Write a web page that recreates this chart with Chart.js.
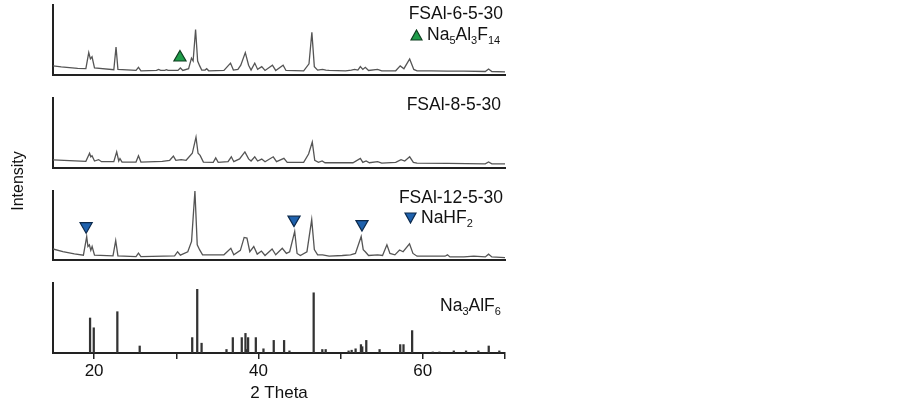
<!DOCTYPE html>
<html>
<head>
<meta charset="utf-8">
<script src="https://cdn.jsdelivr.net/npm/chart.js@4"></script>
<style>
  body { margin: 0; background: #fff; }
  #wrap { position: relative; width: 903px; height: 404px; font-family: "Liberation Sans", Arial, sans-serif; color: #111; }
  #wrap canvas { position: absolute; left: 0; top: 0; }
  .lab { position: absolute; font-size: 17.5px; line-height: 17px; white-space: nowrap; }
  .lab sub { font-size: 11px; vertical-align: -4px; line-height: 0; }
  .lab svg { vertical-align: -1px; margin-right: 4px; }
  #ylab { position: absolute; left: -22px; top: 173px; width: 80px; text-align: center; font-size: 16px; line-height: 16px; transform: rotate(-90deg); }
</style>
</head>
<body>
<div id="wrap">
  <canvas id="c1" width="903" height="404"></canvas>
  <canvas id="c2" width="903" height="404"></canvas>
  <canvas id="c3" width="903" height="404"></canvas>
  <canvas id="c4" width="903" height="404"></canvas>

  <div class="lab" style="right:400px; top:5px;">FSAl-6-5-30</div>
  <div class="lab" style="left:410px; top:26px;"><svg width="13" height="12"><polygon points="6.5,1 12,11 1,11" fill="#1f9d4a" stroke="#0f3f20" stroke-width="1.2"/></svg>Na<sub>5</sub>Al<sub>3</sub>F<sub>14</sub></div>
  <div class="lab" style="right:402px; top:96px;">FSAl-8-5-30</div>
  <div class="lab" style="right:400px; top:189px;">FSAl-12-5-30</div>
  <div class="lab" style="left:404px; top:209px;"><svg width="13" height="12"><polygon points="1,1 12,1 6.5,11" fill="#1f62ae" stroke="#0c2a4d" stroke-width="1.2"/></svg>NaHF<sub>2</sub></div>
  <div class="lab" style="left:440px; top:297px;">Na<sub>3</sub>AlF<sub>6</sub></div>
  <div id="ylab">Intensity</div>
</div>

<script>
// FSAl-6-5-30
const theta1 = [15.0, 16.0, 17.0, 18.0, 19.0, 19.35, 19.55, 19.75, 20.05, 22.4, 22.67, 22.9, 25.1, 25.4, 25.7, 27.6, 27.85, 28.1, 28.6, 28.8, 29.0, 30.2, 30.5, 30.8, 31.5, 31.85, 32.05, 32.35, 32.6, 32.85, 33.1, 33.5, 33.7, 33.95, 35.8, 36.6, 36.95, 37.5, 37.85, 38.4, 38.8, 39.1, 39.55, 39.9, 40.4, 40.8, 41.7, 42.1, 43.0, 43.35, 45.5, 46.15, 46.5, 46.8, 47.2, 47.8, 48.2, 48.6, 50.6, 51.3, 51.7, 52.1, 52.4, 52.7, 53.0, 53.4, 54.5, 55.0, 56.7, 57.25, 57.7, 58.4, 58.9, 59.3, 61.0, 63.0, 65.0, 67.6, 68.0, 68.4, 70.0];
const int1 = [13, 11.5, 10.5, 9.5, 9, 32, 23, 26, 10, 7.5, 40, 8, 6.5, 11, 6, 6.5, 8, 6.5, 6.5, 7.5, 6.5, 6.5, 10, 6.5, 9, 24, 20, 65, 20, 13, 7, 7, 9, 6, 6.5, 17, 7, 8, 14, 32, 14, 7, 17, 8, 12, 6.5, 14, 6.5, 14, 6.5, 6, 16, 61, 12, 7, 8, 7, 6.5, 6, 7, 8, 7, 12, 8, 11, 6.5, 8, 6, 6, 13, 9, 23, 8, 6, 6, 5.5, 5.5, 5, 8.6, 5, 4.5];

// FSAl-8-5-30
const theta2 = [15.0, 17.0, 19.0, 19.45, 19.6, 19.75, 20.05, 20.55, 20.9, 22.4, 22.75, 23.0, 23.15, 23.4, 25.1, 25.4, 25.7, 28.3, 29.2, 29.65, 29.95, 30.6, 31.2, 31.95, 32.4, 32.65, 32.9, 33.3, 34.5, 34.8, 35.1, 36.3, 36.7, 37.0, 37.7, 38.35, 38.8, 39.1, 39.55, 39.9, 40.4, 40.8, 41.8, 42.2, 43.1, 43.5, 45.5, 46.1, 46.55, 46.85, 47.3, 47.75, 48.1, 51.5, 52.4, 52.7, 53.1, 53.5, 54.5, 55.0, 56.7, 57.35, 57.8, 58.4, 58.85, 59.3, 63.0, 67.6, 68.0, 68.4, 70.0];
const int2 = [11.5, 10.5, 9.5, 21, 16, 17.5, 10, 12, 9, 9, 23, 10, 13.5, 8.5, 8.5, 17.5, 8.5, 9.5, 11, 17, 11, 12, 11, 21, 44, 21, 18, 8.5, 8, 14.5, 8, 9, 16, 9, 13, 23, 13, 10, 16, 10, 12.8, 9, 16, 9, 13.7, 8, 8, 20, 37, 11, 8, 10, 7.5, 7.5, 13.7, 8, 10, 7.5, 9, 7, 8, 12, 10, 16, 8, 7, 6.5, 6, 8.5, 6, 6];

// FSAl-12-5-30
const theta3 = [15.0, 16.2, 17.6, 18.7, 19.1, 19.25, 19.43, 19.6, 19.76, 20.05, 22.3, 22.63, 22.9, 25.1, 25.4, 25.7, 29.8, 30.16, 30.5, 31.4, 31.86, 32.27, 32.55, 32.85, 33.2, 35.8, 36.64, 37.0, 37.8, 38.26, 38.6, 38.95, 39.43, 39.85, 40.36, 40.8, 41.66, 42.1, 42.9, 43.4, 43.8, 44.41, 44.7, 45.1, 45.9, 46.48, 46.8, 47.2, 47.8, 48.6, 50.2, 51.2, 51.8, 52.5, 52.75, 53.0, 53.4, 54.5, 55.1, 55.63, 56.0, 56.6, 57.17, 57.6, 58.38, 58.8, 59.3, 62.7, 63.0, 63.3, 65.0, 66.2, 67.6, 68.0, 68.4, 70.0];
const int3 = [16, 12, 9, 7, 34, 19.5, 22, 14, 19.5, 7, 6, 28, 6, 5, 10, 5, 6, 12, 7, 12, 27, 100, 22, 14.6, 7.5, 7.5, 17, 7.5, 14, 32.7, 31.7, 12, 19.5, 8.5, 13, 6.5, 16, 7.5, 17, 9.5, 12, 41.5, 9.5, 6.5, 12, 58.5, 15, 7.5, 7.5, 5.5, 6.5, 7.5, 9.5, 34, 15, 12, 6.5, 7.5, 6.5, 22, 9.5, 7.5, 14.6, 12, 23.4, 9.5, 5.5, 5.5, 7.5, 4.5, 4.5, 5.5, 4.5, 8.5, 4.5, 3.5];

// Na3AlF6 reference lines
const stickTheta = [19.51, 19.96, 22.83, 25.55, 31.94, 32.55, 33.08, 36.11, 36.88, 37.97, 38.42, 38.55, 38.74, 39.68, 40.61, 41.86, 43.12, 43.77, 46.72, 47.77, 48.18, 50.97, 51.34, 51.82, 52.47, 52.63, 53.12, 54.74, 57.25, 57.65, 58.70, 61.21, 62.02, 63.77, 65.26, 66.76, 68.02, 69.31];
const stickInt = [50, 36, 59, 10, 22, 91, 14, 5, 22, 22, 28, 5, 22, 22, 6, 18, 18, 3, 86, 5, 5, 3, 4, 6, 12, 9, 18, 5, 12, 12, 32, 1.5, 1.5, 3, 3, 3, 10, 3];

// phase markers
const na5Theta = [30.45];
const na5Int = [25];
const nahf2Theta = [19.03, 44.33, 52.6];
const nahf2Int = [49, 58.5, 52];

const xTicks = [20, 30, 40, 50, 60, 70];
const xLabels = [20, 40, 60];

function pts(xs, ys) {
  return xs.map((x, i) => ({ x: x, y: ys[i] }));
}

function traceSet(xs, ys) {
  return { type: 'line', data: pts(xs, ys), borderColor: '#555', borderWidth: 1.3, pointRadius: 0, tension: 0 };
}

function makePanel(id, top, bottom, datasets, isBottom) {
  const xScale = {
    type: 'linear', min: 15, max: 70, offset: false,
    border: { display: true, color: '#222', width: 2 }
  };
  if (isBottom) {
    xScale.afterBuildTicks = (s) => { s.ticks = xTicks.map(v => ({ value: v })); };
    xScale.ticks = {
      callback: (v) => xLabels.includes(v) ? String(v) : '',
      font: { size: 17, family: 'Liberation Sans' }, color: '#111', padding: 2,
      maxRotation: 0, autoSkip: false
    };
    xScale.grid = { display: true, offset: false, drawOnChartArea: false, drawTicks: true, tickLength: 6, color: '#222', lineWidth: 1.5 };
    xScale.title = { display: true, text: '2 Theta', font: { size: 17, family: 'Liberation Sans' }, color: '#111', padding: { top: 0, bottom: 0 } };
    xScale.afterFit = (s) => { s.height = 404 - bottom; };
  } else {
    xScale.ticks = { display: false };
    xScale.grid = { display: false };
    xScale.afterFit = (s) => { s.height = 0; };
  }

  new Chart(document.getElementById(id), {
    type: 'line',
    data: { datasets: datasets },
    options: {
      responsive: false,
      animation: false,
      devicePixelRatio: 1,
      layout: {
        autoPadding: false,
        padding: { left: 53, right: 398, top: top, bottom: isBottom ? 0 : 404 - bottom }
      },
      plugins: { legend: { display: false }, tooltip: { enabled: false } },
      scales: {
        x: xScale,
        y: {
          min: 0, max: 100,
          ticks: { display: false },
          grid: { display: false },
          border: { display: true, color: '#222', width: 2 },
          afterFit: (s) => { s.width = 0; }
        }
      }
    }
  });
}

makePanel('c1', 5, 75, [
  traceSet(theta1, int1),
  { type: 'scatter', data: pts(na5Theta, na5Int), pointStyle: 'triangle', radius: 7,
    backgroundColor: '#1f9d4a', borderColor: '#0f3f20', borderWidth: 1.2, clip: false }
], false);

makePanel('c2', 98, 168, [traceSet(theta2, int2)], false);

makePanel('c3', 191, 260, [
  traceSet(theta3, int3),
  { type: 'scatter', data: pts(nahf2Theta, nahf2Int), pointStyle: 'triangle', rotation: 180, radius: 7,
    backgroundColor: '#1f62ae', borderColor: '#0c2a4d', borderWidth: 1.2, clip: false }
], false);

makePanel('c4', 283, 353, [
  { type: 'bar', data: pts(stickTheta, stickInt), backgroundColor: '#333', barThickness: 1.6, grouped: false }
], true);
</script>
</body>
</html>
